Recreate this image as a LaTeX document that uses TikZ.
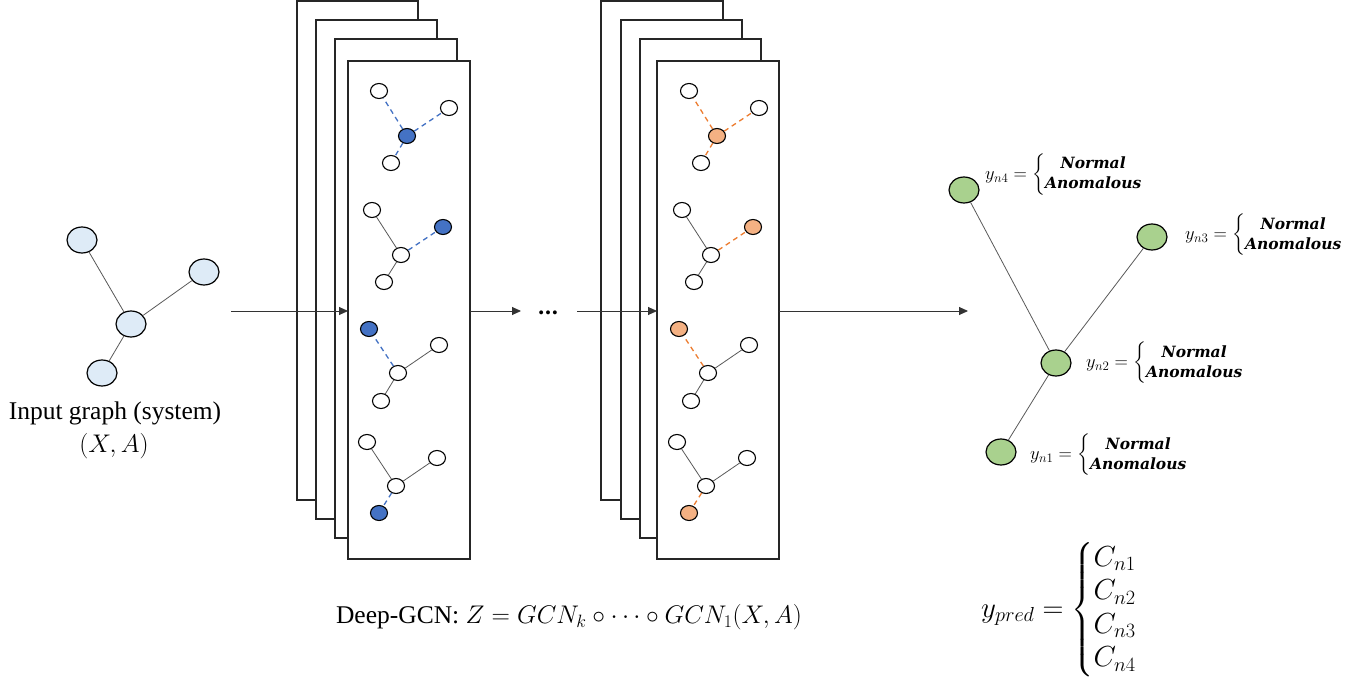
\RequirePackage{fix-cm}
\documentclass[tikz,border=0pt]{standalone}
\usepackage{amsmath}
\usepackage{fontspec}
\setmainfont{Liberation Serif}
\newfontfamily\labfont{DejaVu Serif}
\usetikzlibrary{shapes.geometric,arrows.meta}
\definecolor{gcnblue}{HTML}{4472C4}
\definecolor{gcnorange}{HTML}{F4B183}
\definecolor{orangeedge}{HTML}{ED7D31}
\definecolor{inblue}{HTML}{DEEBF7}
\definecolor{outgreen}{HTML}{A9D18E}
\newcommand{\cls}[1]{\text{\fontsize{15.5}{20}\selectfont\labfont\bfseries\itshape #1}}
\newcommand{\nodeclass}[1]{$y_{#1} = \left\{\begin{array}{@{}c@{}}\cls{Normal}\\ \cls{Anomalous}\end{array}\right.$}

\begin{document}
\begin{tikzpicture}[x=1pt,y=-1pt,
  frame/.style={rectangle, draw=black!85, line width=1.3pt, fill=white, inner sep=0, outer sep=0},
  sn/.style={ellipse, draw=black, line width=1.1pt, fill=white, minimum width=17pt, minimum height=15pt, inner sep=0},
  bn/.style={ellipse, draw=black, line width=1.2pt, minimum width=30pt, minimum height=26pt, inner sep=0},
  link/.style={draw=black!65, line width=0.8pt},
  flow/.style={draw=black!80, line width=0.9pt, -{Triangle[length=9pt,width=8pt]}},
  captext/.style={font=\fontsize{25.5}{30}\selectfont, inner sep=0},
  lbl/.style={font=\fontsize{18.5}{20}\selectfont, inner sep=0, anchor=west},
]
\useasboundingbox (0,0) rectangle (1368,687);

% ---- stacked GCN layers ----
\node[frame, minimum width=121pt, minimum height=499pt] (L1) at (357.5,250.5) {};
\node[frame, minimum width=121pt, minimum height=499pt] (L2) at (376.5,269.5) {};
\node[frame, minimum width=122pt, minimum height=499pt] (L3) at (396,288.5) {};
\node[frame, minimum width=122pt, minimum height=498pt] (L4) at (409,310) {};

\node[frame, minimum width=122pt, minimum height=499pt] (R1) at (662,250.5) {};
\node[frame, minimum width=121pt, minimum height=499pt] (R2) at (681.5,269.5) {};
\node[frame, minimum width=121pt, minimum height=499pt] (R3) at (700.5,288.5) {};
\node[frame, minimum width=122pt, minimum height=498pt] (R4) at (718,310) {};

% ---- small graphs inside the front layer of each stack ----
\foreach \s/\dx/\hot/\edge in {L/0/gcnblue/gcnblue, R/310/gcnorange/orangeedge} {
  \begin{scope}[xshift=\dx pt,
      hot/.style={fill=\hot},
      hotlink/.style={draw=\edge, line width=1.3pt, dash pattern=on 5pt off 4pt}]
    % graph 1
    \node[sn] (\s-a1) at (379,91) {};
    \node[sn] (\s-b1) at (449,108) {};
    \node[sn,hot] (\s-c1) at (407,136) {};
    \node[sn] (\s-d1) at (391,163) {};
    \draw[hotlink] (\s-c1) -- (\s-a1);
    \draw[hotlink] (\s-c1) -- (\s-b1);
    \draw[hotlink] (\s-c1) -- (\s-d1);
    % graph 2
    \node[sn] (\s-a2) at (372,210) {};
    \node[sn,hot] (\s-b2) at (443,227) {};
    \node[sn] (\s-c2) at (401,255) {};
    \node[sn] (\s-d2) at (384,282) {};
    \draw[link] (\s-c2) -- (\s-a2);
    \draw[hotlink] (\s-c2) -- (\s-b2);
    \draw[link] (\s-c2) -- (\s-d2);
    % graph 3
    \node[sn,hot] (\s-a3) at (369,329) {};
    \node[sn] (\s-b3) at (439,345) {};
    \node[sn] (\s-c3) at (398,373) {};
    \node[sn] (\s-d3) at (381,401) {};
    \draw[hotlink] (\s-c3) -- (\s-a3);
    \draw[link] (\s-c3) -- (\s-b3);
    \draw[link] (\s-c3) -- (\s-d3);
    % graph 4
    \node[sn] (\s-a4) at (367,442) {};
    \node[sn] (\s-b4) at (437,458) {};
    \node[sn] (\s-c4) at (396,486) {};
    \node[sn,hot] (\s-d4) at (379,513) {};
    \draw[link] (\s-c4) -- (\s-a4);
    \draw[link] (\s-c4) -- (\s-b4);
    \draw[hotlink] (\s-c4) -- (\s-d4);
  \end{scope}
}

% ---- input graph ----
\node[bn, fill=inblue] (i1) at (82,240) {};
\node[bn, fill=inblue] (i2) at (204,272) {};
\node[bn, fill=inblue] (i0) at (131,324) {};
\node[bn, fill=inblue] (i3) at (102,373) {};
\draw[link] (i0) -- (i1);
\draw[link] (i0) -- (i2);
\draw[link] (i0) -- (i3);
\node[captext] (incap) at (115,413) {Input graph (system)};
\node[captext] (inmath) at (114,446) {$(X,A)$};

% ---- data flow ----
\coordinate (inA) at (231,311);
\draw[flow] (inA) -- (inA -| L4.west);
\coordinate (midA) at (521,311);
\draw[flow] (L4.east |- midA) -- (midA);
\node[font=\fontsize{21}{22}\selectfont\labfont\bfseries, inner sep=0] (dots) at (548,313) {…};
\coordinate (midB) at (577,311);
\draw[flow] (midB) -- (midB -| R4.west);
\coordinate (outA) at (968,311);
\draw[flow] (R4.east |- outA) -- (outA);

\node[captext] (gcncap) at (569,617) {Deep-GCN: $Z = GCN_k \circ \cdots \circ GCN_1(X,A)$};

% ---- output graph ----
\node[bn, fill=outgreen] (n4) at (964,190) {};
\node[bn, fill=outgreen] (n3) at (1152,237) {};
\node[bn, fill=outgreen] (n2) at (1056,363) {};
\node[bn, fill=outgreen] (n1) at (1001,452) {};
\draw[link] (n2) -- (n4);
\draw[link] (n2) -- (n3);
\draw[link] (n2) -- (n1);

\node[lbl] (l4) at (985,175) {\nodeclass{n4}};
\node[lbl] (l3) at (1185,235) {\nodeclass{n3}};
\node[lbl] (l2) at (1086,363) {\nodeclass{n2}};
\node[lbl] (l1) at (1030,455) {\nodeclass{n1}};

\node[font=\fontsize{29}{33.5}\selectfont, inner sep=0, anchor=west] (ypred) at (981,610)
  {$y_{pred} = \left\{\begin{array}{@{}l@{}} C_{n1}\\ C_{n2}\\ C_{n3}\\ C_{n4}\end{array}\right.$};
\end{tikzpicture}
\end{document}
